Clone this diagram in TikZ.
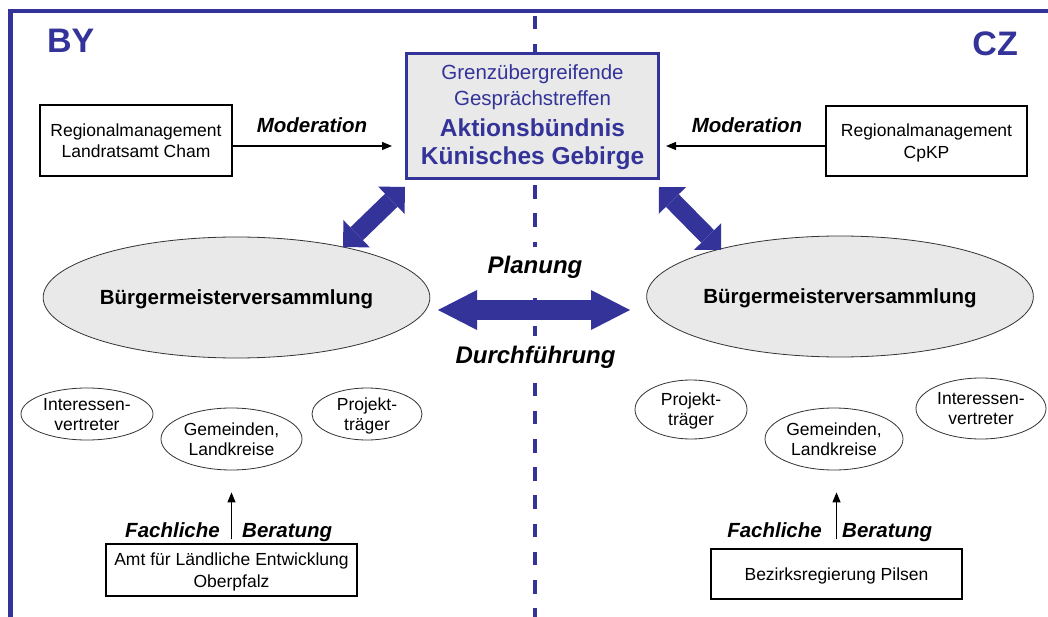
\documentclass[tikz,border=0pt]{standalone}
\usepackage{fontspec}
\setmainfont{Liberation Sans}
\usetikzlibrary{arrows.meta,shapes.geometric}
\definecolor{navy}{RGB}{51,51,153}
\definecolor{boxgray}{RGB}{233,233,233}
\begin{document}
\begin{tikzpicture}[x=1pt,y=-1pt,
  rect/.style={draw=black,line width=1.2pt,fill=white,inner sep=0pt,align=center,text depth=0pt,font=\fontsize{17.5}{21.5}\selectfont},
  bigell/.style={ellipse,draw=black!80,line width=0.8pt,fill=boxgray,inner sep=0pt,minimum width=293pt,minimum height=121pt,text depth=0pt,font=\fontsize{20.5}{24}\selectfont\bfseries},
  smallell/.style={ellipse,draw=black!80,line width=0.8pt,fill=white,inner sep=0pt,align=center,text depth=0pt,font=\fontsize{17.5}{20}\selectfont},
  lbl/.style={font=\fontsize{20.5}{24}\selectfont\bfseries\itshape,inner sep=0pt},
  biglbl/.style={font=\fontsize{24}{28}\selectfont\bfseries\itshape,fill=white,inner xsep=2pt,inner ysep=10pt,anchor=base},
  ctext/.style={navy,font=\fontsize{20.5}{24}\selectfont,inner sep=0pt,anchor=base},
  cbold/.style={navy,font=\fontsize{24.5}{28}\selectfont\bfseries,inner sep=0pt,anchor=base},
  thinarrow/.style={line width=1.2pt,-{Triangle[length=10pt,width=8pt]}},
  blockarrow/.style={navy,line width=18pt,{Triangle[length=19pt,width=38pt,line width=0pt]}-{Triangle[length=19pt,width=38pt,line width=0pt]}},
  harrow/.style={navy,line width=20pt,{Triangle[length=39pt,width=40pt,line width=0pt]}-{Triangle[length=39pt,width=40pt,line width=0pt]}},
  country/.style={navy,font=\fontsize{34}{40}\selectfont\bfseries,inner sep=0pt},
]
\fill[white] (0,0) rectangle (1048,617);
\useasboundingbox (0,0) rectangle (1048,617);
% frame
\coordinate (f1) at (10.5,617);
\coordinate (f2) at (10.5,11);
\coordinate (f3) at (1048,11);
\draw[navy,line width=4.5pt] (f1) -- (f2) -- (f3);
% horizontal block arrow
\coordinate (ha) at (438,310);
\coordinate (hb) at (630,310);
\draw[harrow] (ha) -- (hb);
% border line
\coordinate (dtop) at (535,16);
\coordinate (dbot) at (535,620);
\draw[navy,line width=4.5pt,dash pattern=on 13.5pt off 14.7pt] (dtop) -- (dbot);
% labels
\node[country,anchor=base west] (by) at (47,53) {BY};
\node[country,anchor=base east] (cz) at (1018,56) {CZ};
% central box
\node[draw=navy,line width=3pt,fill=boxgray,minimum width=252pt,minimum height=125pt,inner sep=0pt] (C) at (532.5,116) {};
\node[ctext] (c1) at (532.5,80) {Grenzübergreifende};
\node[ctext] (c2) at (532.5,106) {Gesprächstreffen};
\node[cbold] (c3) at (532.5,137) {Aktionsbündnis};
\node[cbold] (c4) at (532.5,165) {Künisches Gebirge};
% regional management boxes
\node[rect,minimum width=192pt,minimum height=71pt] (L) at (136,140.5) {Regionalmanagement\\Landratsamt Cham};
\node[rect,minimum width=201pt,minimum height=70pt] (R) at (926.5,141) {Regionalmanagement\\CpKP};
\coordinate (ly) at (0,146);
\draw[thinarrow,shorten >=13pt] (L.east |- ly) -- (C.west |- ly);
\draw[thinarrow,shorten >=6pt] (R.west |- ly) -- (C.east |- ly);
\node[lbl,anchor=base] (m1) at (312,133) {Moderation};
\node[lbl,anchor=base] (m2) at (747,133) {Moderation};
% big ellipses
\node[bigell] (BL) at (236.5,297.5) {Bürgermeisterversammlung};
\node[bigell] (BR) at (840,296.5) {Bürgermeisterversammlung};
% diagonal block arrows
\coordinate (dl1) at (343,247);
\coordinate (dl2) at (405,187);
\draw[blockarrow] (dl1) -- (dl2);
\coordinate (dr1) at (659,187);
\coordinate (dr2) at (721,250);
\draw[blockarrow] (dr1) -- (dr2);
% planning labels
\node[biglbl] (pl) at (535,274) {Planung};
\node[biglbl] (df) at (535.5,363) {Durchführung};
% small ellipses left
\node[smallell,minimum width=132pt,minimum height=52pt] (LI) at (87,414) {Interessen-\\vertreter};
\node[smallell,minimum width=141pt,minimum height=62pt] (LG) at (231.5,439) {Gemeinden,\\Landkreise};
\node[smallell,minimum width=110pt,minimum height=52pt] (LP) at (367,414) {Projekt-\\träger};
% small ellipses right
\node[smallell,minimum width=112pt,minimum height=59pt] (RP) at (691,409.5) {Projekt-\\träger};
\node[smallell,minimum width=138pt,minimum height=62pt] (RG) at (834,439) {Gemeinden,\\Landkreise};
\node[smallell,minimum width=130pt,minimum height=61pt] (RI) at (981,408.5) {Interessen-\\vertreter};
% bottom boxes
\node[rect,minimum width=251pt,minimum height=52pt] (LA) at (231.5,570) {Amt für Ländliche Entwicklung\\Oberpfalz};
\node[rect,minimum width=251pt,minimum height=50pt] (RB) at (836.5,574) {Bezirksregierung Pilsen};
\draw[thinarrow,shorten <=4pt,shorten >=22pt] (LA.north) -- (LG.south);
\draw[thinarrow,shorten <=9pt,shorten >=22pt] (RB.north) -- (RB.north |- RG.south);
\node[lbl,anchor=base east] (fl) at (220,537) {Fachliche};
\node[lbl,anchor=base west] (bl) at (242,537) {Beratung};
\node[lbl,anchor=base east] (fr) at (822,537) {Fachliche};
\node[lbl,anchor=base west] (br) at (842,537) {Beratung};
\end{tikzpicture}
\end{document}
